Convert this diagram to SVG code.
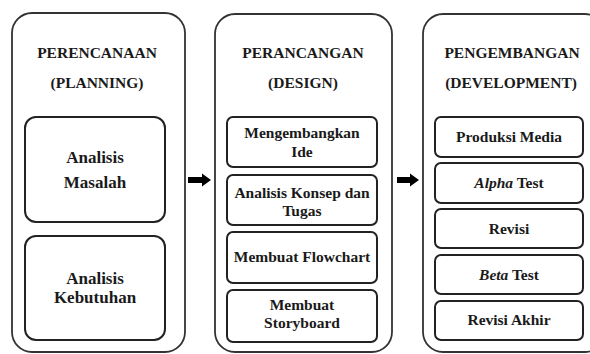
<svg xmlns="http://www.w3.org/2000/svg" width="590" height="354" viewBox="0 0 590 354" font-family="Liberation Serif, Times New Roman, serif" font-weight="bold" text-anchor="middle">
<style>
.outer{fill:#fff;stroke:#333;stroke-width:1.8}
.inner{fill:#fff;stroke:#222;stroke-width:2}
text{fill:#1a1a1a}
.t{font-size:15.5px}
.b{font-size:15.5px}
.l{font-size:17px}
</style>
<rect width="590" height="354" fill="#fff"/>
<g id="planning">
<rect class="outer" x="12" y="13" width="173" height="339" rx="20"/>
<text class="t" x="97" y="58">PERENCANAAN</text>
<text class="t" x="97" y="88">(PLANNING)</text>
<g id="analisis-masalah">
<rect class="inner" x="25" y="117" width="140" height="105" rx="11"/>
<text class="l" x="95" y="163">Analisis</text>
<text class="l" x="95" y="188">Masalah</text>
</g>
<g id="analisis-kebutuhan">
<rect class="inner" x="25" y="236" width="140" height="104" rx="11"/>
<text class="l" x="95" y="284">Analisis</text>
<text class="l" x="95" y="303">Kebutuhan</text>
</g>
</g>
<g id="design">
<rect class="outer" x="215" y="14" width="177" height="338" rx="20"/>
<text class="t" x="303" y="58">PERANCANGAN</text>
<text class="t" x="303" y="88">(DESIGN)</text>
<g id="mengembangkan-ide">
<rect class="inner" x="227" y="117" width="150" height="50" rx="6"/>
<text class="b" x="302" y="138">Mengembangkan</text>
<text class="b" x="302" y="157">Ide</text>
</g>
<g id="analisis-konsep">
<rect class="inner" x="227" y="175" width="150" height="50" rx="6"/>
<text class="b" x="302" y="198">Analisis Konsep dan</text>
<text class="b" x="302" y="216">Tugas</text>
</g>
<g id="membuat-flowchart">
<rect class="inner" x="227" y="232" width="150" height="51" rx="6"/>
<text class="b" x="302" y="262">Membuat Flowchart</text>
</g>
<g id="membuat-storyboard">
<rect class="inner" x="227" y="290" width="150" height="52" rx="6"/>
<text class="b" x="302" y="310">Membuat</text>
<text class="b" x="302" y="328">Storyboard</text>
</g>
</g>
<g id="development">
<rect class="outer" x="423" y="14" width="182" height="338" rx="20"/>
<text class="t" x="512" y="58">PENGEMBANGAN</text>
<text class="t" x="511" y="88">(DEVELOPMENT)</text>
<g id="produksi-media">
<rect class="inner" x="435" y="117" width="148" height="40" rx="6"/>
<text class="b" x="509" y="142">Produksi Media</text>
</g>
<g id="alpha-test">
<rect class="inner" x="435" y="163" width="148" height="40" rx="6"/>
<text class="b" x="509" y="188"><tspan font-style="italic">Alpha</tspan> Test</text>
</g>
<g id="revisi">
<rect class="inner" x="435" y="209" width="148" height="39" rx="6"/>
<text class="b" x="509" y="234">Revisi</text>
</g>
<g id="beta-test">
<rect class="inner" x="435" y="255" width="148" height="39" rx="6"/>
<text class="b" x="509" y="280"><tspan font-style="italic">Beta</tspan> Test</text>
</g>
<g id="revisi-akhir">
<rect class="inner" x="435" y="301" width="148" height="39" rx="6"/>
<text class="b" x="509" y="325">Revisi Akhir</text>
</g>
</g>
<g id="connectors" fill="#000">
<polygon points="188,177 202,177 202,173.5 211,180 202,186.5 202,183 188,183"/>
<polygon points="397,177 410,177 410,173.5 419,180 410,186.5 410,183 397,183"/>
</g>
</svg>
